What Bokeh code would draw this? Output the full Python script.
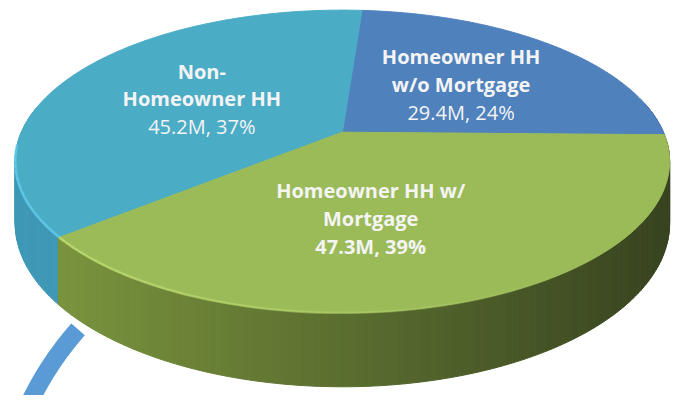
import numpy as np
from bokeh.plotting import figure
from bokeh.models import Range1d
from bokeh.embed import file_html
from bokeh.resources import INLINE
from bokeh.core.properties import value

# ---------------- data ----------------
categories = ["Homeowner HH w/o Mortgage", "Non-Homeowner HH", "Homeowner HH w/ Mortgage"]
label_lines = [["Homeowner HH", "w/o Mortgage"],
               ["Non-", "Homeowner HH"],
               ["Homeowner HH w/", "Mortgage"]]
values_m = [29.4, 45.2, 47.3]          # millions of households

# ---------------- style / layout ----------------
top_colors = ["#4F81BD", "#4BACC6", "#9BBB59"]
side_left = [(70, 110, 160), (62, 152, 182), (122, 148, 62)]
side_right = [(50, 80, 120), (55, 140, 170), (56, 68, 32)]
rim_colors = ["#6E9AD0", "#62CBEA", "#BBDA70"]
value_bold = [False, False, True]
label_nudge = [(-3, 3), (9, 2), (-37, 2)]
LABEL_F = 0.55
LINE_H = 29

CX, CY = 350, 137          # projected pie centre (reference px)
A, B, K = 328.6, 151.6, 0.1937
DEPTH = 62
START = -1.0


def proj(u, v):
    w = 1 + K * v
    return CX + A * u / w, CY - B * v / w


def rim(theta_deg, f=1.0):
    th = np.radians(theta_deg)
    return proj(f * np.cos(th), f * np.sin(th))


total = sum(values_m)
fracs = [v / total for v in values_m]
bounds = [START]
for fr in fracs:
    bounds.append(bounds[-1] + 360.0 * fr)

p = figure(width=676, height=395, output_backend="svg", toolbar_location=None,
           x_range=Range1d(0, 692), y_range=Range1d(411, 0), min_border=0)
p.axis.visible = False
p.grid.visible = False
p.outline_line_color = None
p.background_fill_color = "white"
p.border_fill_color = "white"


def slice_of(theta):
    t = (theta - START) % 360.0 + START
    for i in range(len(values_m)):
        if bounds[i] <= t < bounds[i + 1]:
            return i
    return len(values_m) - 1


# ---------------- side wall ----------------
quads = []
step = 1.0
a = 170.0
while a < 372.0:
    b = a + step
    mid = (a + b) / 2
    i = slice_of(mid)
    x0, y0 = rim(a)
    x1, y1 = rim(b)
    w0 = 1 + K * np.sin(np.radians(a))
    w1 = 1 + K * np.sin(np.radians(b))
    xs = [x0, x1, x1, x0]
    ys = [y0, y1, y1 + DEPTH / w1, y0 + DEPTH / w0]
    t = min(max(((x0 + x1) / 2 - 60) / 620.0, 0), 1)
    c = tuple(int(side_left[i][k] + (side_right[i][k] - side_left[i][k]) * t) for k in range(3))
    col = "#%02x%02x%02x" % c
    quads.append((np.sin(np.radians(mid)), xs, ys, col))
    a = b
quads.sort(key=lambda q: -q[0])
p.patches([q[1] for q in quads], [q[2] for q in quads],
          fill_color=[q[3] for q in quads], line_color=[q[3] for q in quads], line_width=1)

# ---------------- top face ----------------
txs, tys = [], []
for i in range(len(values_m)):
    th = np.linspace(bounds[i], bounds[i + 1], 200)
    ax, ay = rim(th)
    txs.append([CX] + list(ax))
    tys.append([CY] + list(ay))
p.patches(txs, tys, fill_color=top_colors, line_color=top_colors, line_width=1)

# rim highlight along the front edge
for i in range(len(values_m)):
    lo = max(bounds[i], 185.0)
    hi = min(bounds[i + 1], 352.0)
    if hi <= lo:
        continue
    th = np.linspace(lo, hi, 80)
    rx, ry = rim(th)
    segs_x = [[rx[j], rx[j + 1]] for j in range(len(th) - 1)]
    segs_y = [[ry[j], ry[j + 1]] for j in range(len(th) - 1)]
    alph = [max(0.0, 0.9 - 0.9 * ((rx[j] - 60) / 560.0)) for j in range(len(th) - 1)]
    p.multi_line(segs_x, segs_y, line_color=rim_colors[i], line_width=2.5, line_alpha=alph)

# ---------------- labels ----------------
for i in range(len(values_m)):
    mid = (bounds[i] + bounds[i + 1]) / 2
    lx, ly = rim(mid, LABEL_F)
    lx += label_nudge[i][0]
    ly += label_nudge[i][1]
    pct = round(100 * fracs[i])
    lines = label_lines[i] + [f"{values_m[i]}M, {pct}%"]
    n = len(lines)
    for j, txt in enumerate(lines):
        yy = ly + (j - (n - 1) / 2) * LINE_H
        bold = j < n - 1 or value_bold[i]
        p.text(x=[lx], y=[yy], text=[txt], text_align="center", text_baseline="middle",
               text_font=value("Open Sans"), text_font_size="20px",
               text_font_style="bold" if bold else "normal", text_color="#F4F4F4")

# ---------------- decorative arc (slide element) ----------------
ang = np.radians(np.linspace(-139.0, -168.0, 60))
p.line(330 + 332 * np.cos(ang), 560 + 332 * np.sin(ang), line_color="#5B9BD5",
       line_width=18, line_cap="butt")

open("out.html", "w").write(file_html(p, INLINE))
